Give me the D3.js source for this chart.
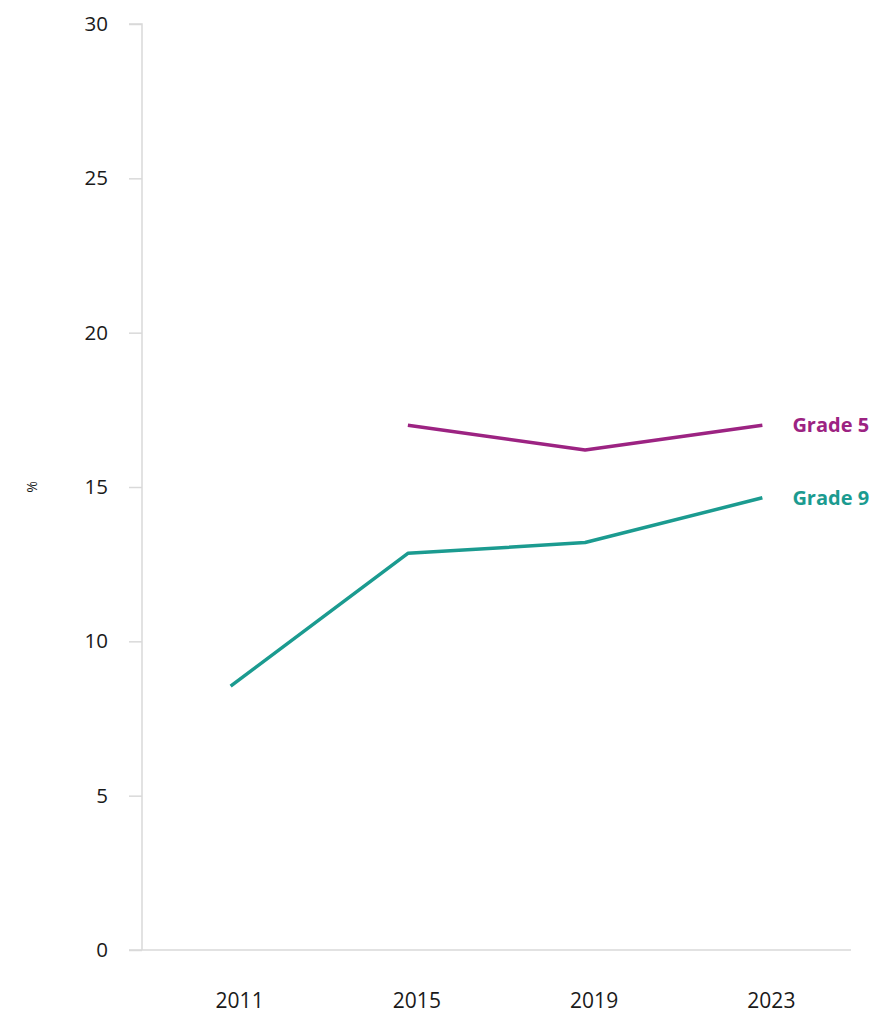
<!DOCTYPE html>
<html>
<head>
<meta charset="utf-8">
<script src="https://cdn.jsdelivr.net/npm/d3@7"></script>
<style>
  html, body { margin: 0; padding: 0; background: #fff; }
  svg { display: block; }
  svg text { font-family: "Open Sans", "Noto Sans", sans-serif; }
</style>
</head>
<body>
<svg id="chart" width="871" height="1013"></svg>
<script>
// Survey years on the x axis
const years = ["2011", "2015", "2019", "2023"];
// Share of pupils (%) by grade; null where no survey was run
const grade5 = [null, 17.0, 16.2, 17.0];
const grade9 = [8.55, 12.85, 13.2, 14.65];
const seriesNames = ["Grade 5", "Grade 9"];
const yTicks = [0, 5, 10, 15, 20, 25, 30];

const colors = { "Grade 5": "#9c2382", "Grade 9": "#1b9b90" };

const svg = d3.select("#chart");
const margin = { left: 142, right: 20, top: 24, bottom: 63 };
const width = 851;

const x = d3.scaleBand().domain(years).range([margin.left, width]);
const y = d3.scaleLinear().domain([0, 30]).range([950, margin.top]);

// Y axis: light grey spine with short outward ticks
const yAxis = svg.append("g")
  .attr("transform", `translate(${margin.left},0)`)
  .call(d3.axisLeft(y).tickValues(yTicks).tickSize(13).tickPadding(21).tickFormat(d3.format("d")))
  .attr("font-family", null)
  .attr("font-size", null);
yAxis.select(".domain").attr("stroke", "#d9d9d9").attr("stroke-width", 1.5)
  .attr("d", `M-13,${y(30)}H0V${y(0)}`);
yAxis.selectAll(".tick line").attr("stroke", "#d9d9d9").attr("stroke-width", 1.5);
yAxis.selectAll(".tick text").attr("fill", "#1a1a1a").style("font-size", "20.5px");

// Baseline along zero
svg.append("line")
  .attr("x1", margin.left - 13).attr("x2", width)
  .attr("y1", y(0)).attr("y2", y(0))
  .attr("stroke", "#d9d9d9").attr("stroke-width", 1.5);

// X axis labels, nudged slightly right of the category centre
const xAxis = svg.append("g")
  .attr("transform", `translate(0,${y(0)})`)
  .call(d3.axisBottom(x).tickSize(0).tickPadding(43))
  .attr("font-family", null)
  .attr("font-size", null);
xAxis.select(".domain").remove();
xAxis.selectAll(".tick text")
  .attr("dx", 9)
  .attr("fill", "#1a1a1a")
  .style("font-size", "21px");

// Y axis title
svg.append("text")
  .attr("transform", `translate(37,${y(15)}) rotate(-90)`)
  .attr("text-anchor", "middle")
  .attr("fill", "#1a1a1a")
  .style("font-size", "14px")
  .text("%");

const line = d3.line()
  .defined(d => d.v != null)
  .x(d => x(d.year) + x.bandwidth() / 2)
  .y(d => y(d.v));

const series = [
  { name: seriesNames[0], values: grade5 },
  { name: seriesNames[1], values: grade9 }
];

series.forEach(s => {
  const pts = years.map((yr, i) => ({ year: yr, v: s.values[i] }));
  svg.append("path")
    .datum(pts)
    .attr("fill", "none")
    .attr("stroke", colors[s.name])
    .attr("stroke-width", 3.5)
    .attr("stroke-linejoin", "round")
    .attr("d", line);
  const last = pts[pts.length - 1];
  svg.append("text")
    .attr("x", x(last.year) + x.bandwidth() / 2 + 30)
    .attr("y", y(last.v))
    .attr("dy", "0.35em")
    .attr("fill", colors[s.name])
    .style("font-size", "20px")
    .style("font-weight", "bold")
    .text(s.name);
});
</script>
</body>
</html>
